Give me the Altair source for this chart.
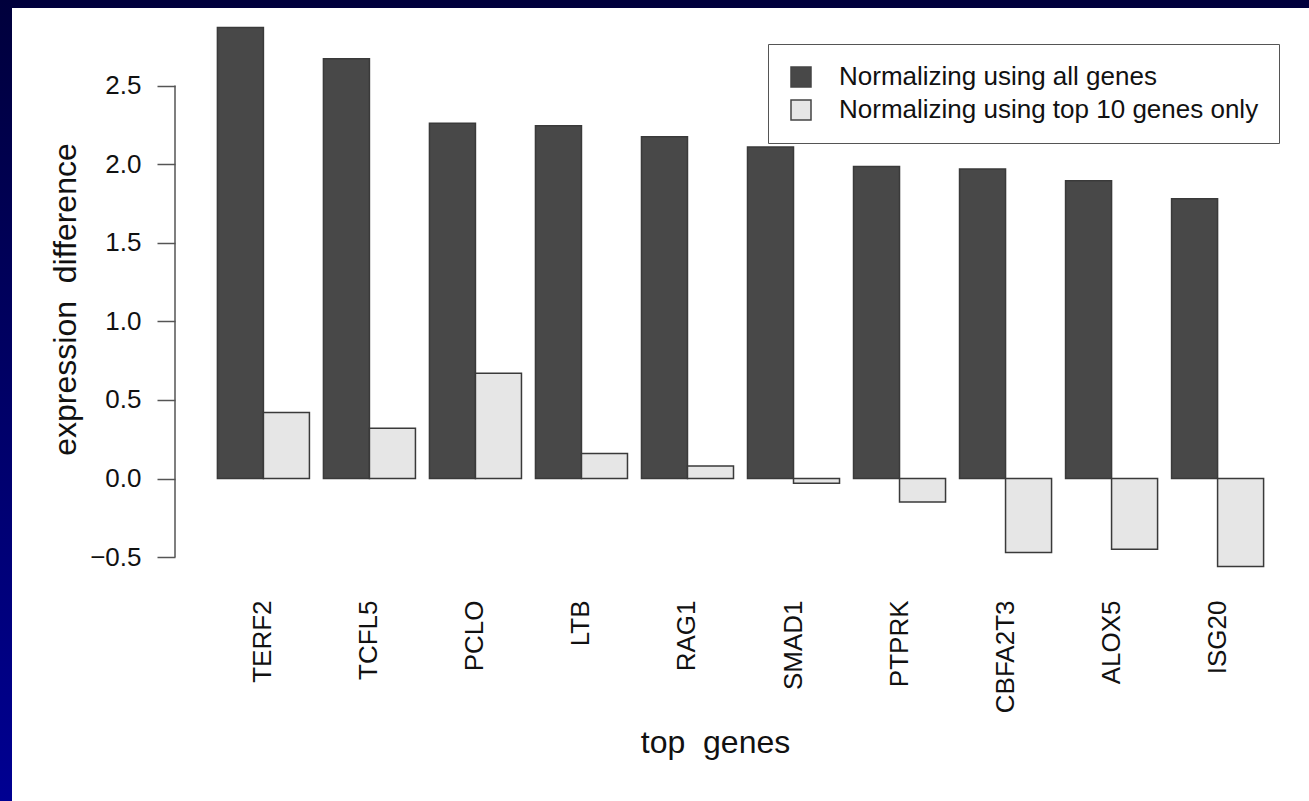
import altair as alt
import pandas as pd

genes = ["TERF2", "TCFL5", "PCLO", "LTB", "RAG1", "SMAD1", "PTPRK", "CBFA2T3", "ALOX5", "ISG20"]
series = ["Normalizing using all genes", "Normalizing using top 10 genes only"]
all_genes = [2.87, 2.67, 2.26, 2.245, 2.175, 2.11, 1.985, 1.97, 1.895, 1.78]
top10 = [0.42, 0.32, 0.67, 0.16, 0.08, -0.03, -0.15, -0.47, -0.45, -0.56]
y_ticks = [-0.5, 0.0, 0.5, 1.0, 1.5, 2.0, 2.5]
bar_colors = ["#484848", "#e6e6e6"]

rows = []
for g, a, t in zip(genes, all_genes, top10):
    rows.append({"gene": g, "series": series[0], "value": a})
    rows.append({"gene": g, "series": series[1], "value": t})
df = pd.DataFrame(rows)

FONT = "Liberation Sans"
W, H = 1131, 580
PAD_L, PAD_T = 175, 7

one = pd.DataFrame({"k": [0]})

frame = alt.Chart(one).mark_rect(
    color=alt.LinearGradient(
        gradient="linear",
        stops=[alt.GradientStop(color="#00003c", offset=0),
               alt.GradientStop(color="#000092", offset=1)],
        x1=0, x2=0, y1=0, y2=1,
    )
).encode(x=alt.value(-PAD_L), x2=alt.value(1309 - PAD_L), y=alt.value(-PAD_T), y2=alt.value(801 - PAD_T))

inner = alt.Chart(one).mark_rect(color="white").encode(
    x=alt.value(12 - PAD_L), x2=alt.value(1309 - PAD_L), y=alt.value(8 - PAD_T), y2=alt.value(801 - PAD_T)
)

yscale = alt.Scale(domain=[-0.69, 3.0], nice=False, zero=False)

bars = alt.Chart(df).mark_bar(stroke="#3a3a3a", strokeWidth=1.5).encode(
    x=alt.X("gene:N", sort=genes,
            scale=alt.Scale(paddingInner=0.132, paddingOuter=0.40),
            axis=alt.Axis(title="top\u00a0 genes", domain=False, ticks=False, labelAngle=270, zindex=1,
                          labelPadding=13, labelFontSize=26, labelFont=FONT, labelColor="#111",
                          titleFont=FONT, titleFontSize=32, titleFontWeight="normal", titleColor="#111",
                          titleX=540, titleY=155, titleBaseline="middle", titleAlign="center")),
    xOffset=alt.XOffset("series:N", sort=series),
    y=alt.Y("value:Q", scale=yscale,
            axis=alt.Axis(title="expression\u00a0 difference", values=y_ticks, format=".1f", domain=False,
                          grid=False, tickSize=18, tickWidth=1.5, tickColor="#555", zindex=1,
                          labelPadding=16, labelFontSize=26, labelFont=FONT, labelColor="#111",
                          titleFont=FONT, titleFontSize=32, titleFontWeight="normal", titleColor="#111",
                          titleAngle=270, titleX=-110, titleY=292, titleBaseline="middle",
                          titleAlign="center")),
    color=alt.Color("series:N", sort=series,
                    scale=alt.Scale(domain=series, range=bar_colors),
                    legend=alt.Legend(title=None, orient="none", legendX=768 - PAD_L, legendY=44 - PAD_T,
                                      symbolType="square", symbolSize=400, symbolStrokeColor="#444",
                                      symbolStrokeWidth=1.5, labelFont=FONT, labelFontSize=26,
                                      labelColor="#111", labelOffset=25, rowPadding=7, padding=20,
                                      strokeColor="#555", fillColor="white", labelLimit=1000)),
)

axis_line = alt.Chart(pd.DataFrame({"y0": [y_ticks[0]], "y1": [y_ticks[-1]]})).mark_rule(
    color="#555", strokeWidth=1.5
).encode(x=alt.value(0), y=alt.Y("y0:Q", scale=yscale), y2="y1:Q")

chart = alt.layer(frame, inner, bars, axis_line).properties(
    width=W, height=H,
    autosize=alt.AutoSizeParams(type="none"),
    padding={"left": PAD_L, "top": PAD_T, "right": 1309 - PAD_L - W, "bottom": 801 - PAD_T - H},
    background="white",
).configure_view(stroke=None)

chart.save("out.html", embed_options={"renderer": "svg", "actions": False})
